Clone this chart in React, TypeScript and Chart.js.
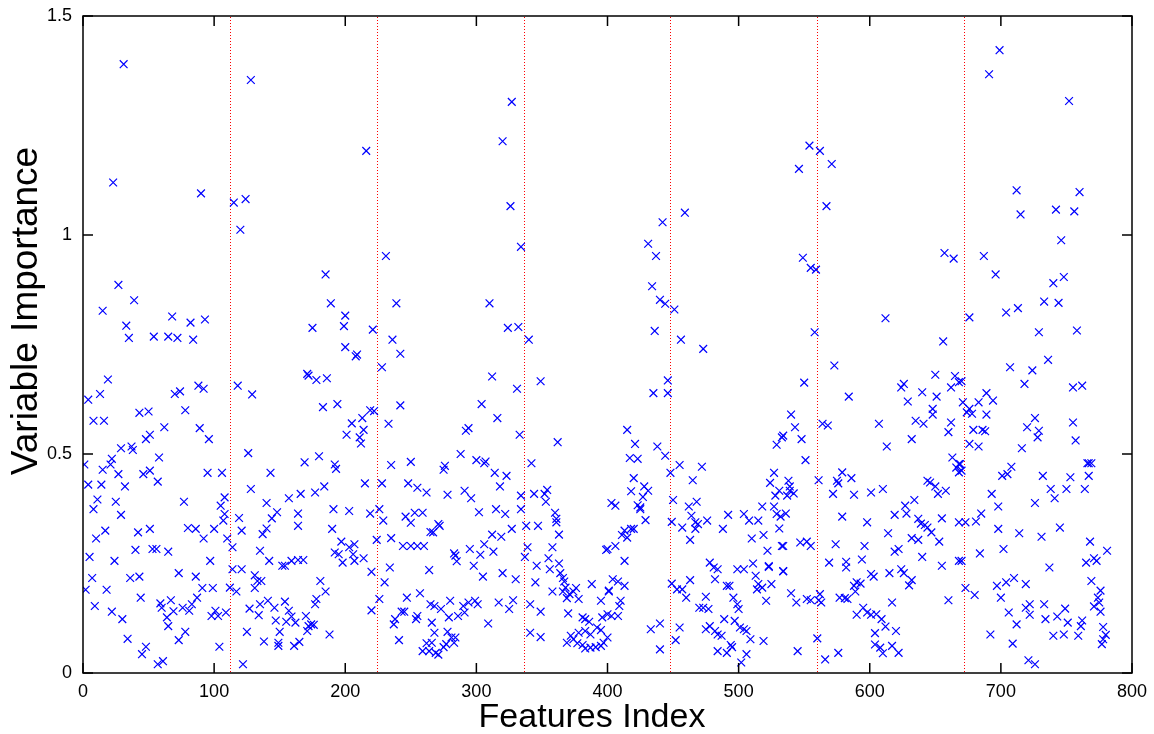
import { useEffect, useRef } from "react";
import { Chart, registerables } from "chart.js";

Chart.register(...registerables);

const xTicks = [0, 100, 200, 300, 400, 500, 600, 700, 800];
const yTicks = [0, 0.5, 1, 1.5];
const groupBoundaries = [112, 224, 336, 448, 560, 672];
const xTitle = "Features Index";
const yTitle = "Variable Importance";

// [feature index, variable importance]
const group1: [number, number][] = [
  [31, 1.39], [23, 1.12], [90, 1.095], [27, 0.886], [39, 0.851], [15, 0.827], [68, 0.814], [33, 0.793],
  [82, 0.8], [93, 0.807], [35, 0.765], [54, 0.768], [65, 0.768], [72, 0.765], [84, 0.761],
  [19, 0.67], [4, 0.624], [13, 0.637], [70, 0.637], [74, 0.643], [88, 0.656], [92, 0.649], [8, 0.576],
  [16, 0.576], [43, 0.594], [50, 0.597], [78, 0.6], [62, 0.561], [89, 0.559], [96, 0.534], [48, 0.534],
  [51, 0.544], [29, 0.513], [37, 0.517], [38, 0.509], [58, 0.492], [1, 0.476], [22, 0.489], [21, 0.476],
  [15, 0.464], [27, 0.454], [46, 0.454], [51, 0.462], [57, 0.437], [95, 0.457], [106, 0.457], [4, 0.43],
  [14, 0.43], [32, 0.426], [11, 0.396], [8, 0.374], [25, 0.391], [29, 0.361], [77, 0.391], [108, 0.401],
  [105, 0.382], [108, 0.363], [107, 0.348], [17, 0.325], [10, 0.307], [42, 0.321], [51, 0.329], [80, 0.331],
  [86, 0.329], [100, 0.329], [92, 0.307], [110, 0.307], [5, 0.265], [24, 0.256], [40, 0.281], [53, 0.283],
  [56, 0.283], [65, 0.277], [97, 0.256], [7, 0.217], [36, 0.217], [43, 0.22], [73, 0.228], [86, 0.22],
  [2, 0.19], [18, 0.19], [91, 0.194], [99, 0.194], [9, 0.153], [22, 0.14], [30, 0.123], [44, 0.172],
  [59, 0.159], [60, 0.149], [67, 0.166], [69, 0.141], [64, 0.127], [65, 0.107], [76, 0.149], [81, 0.142],
  [83, 0.157], [87, 0.172], [101, 0.142], [98, 0.13], [103, 0.13], [109, 0.138], [34, 0.078], [78, 0.094],
  [73, 0.075], [48, 0.06], [45, 0.043], [57, 0.02], [61, 0.027], [104, 0.06], [112, 0.195],
];

const group2: [number, number][] = [
  [115, 1.074], [124, 1.082], [120, 1.012], [128, 1.354], [118, 0.656], [129, 0.636], [126, 0.502],
  [128, 0.42], [119, 0.354], [121, 0.325], [114, 0.287], [114, 0.237], [121, 0.237], [131, 0.223],
  [117, 0.186], [131, 0.194], [127, 0.147], [125, 0.094], [122, 0.02],
  [216, 1.192], [185, 0.91], [189, 0.844], [200, 0.816], [175, 0.788], [199, 0.792], [221, 0.784],
  [200, 0.744], [208, 0.723], [209, 0.727], [171, 0.683], [172, 0.679], [178, 0.669], [186, 0.673],
  [183, 0.607], [194, 0.614], [219, 0.6], [222, 0.598], [213, 0.582], [205, 0.57], [201, 0.544],
  [214, 0.555], [211, 0.538], [212, 0.524], [169, 0.481], [180, 0.495], [143, 0.457], [192, 0.476],
  [193, 0.466], [215, 0.433], [140, 0.388], [157, 0.399], [166, 0.409], [177, 0.412], [184, 0.426],
  [148, 0.367], [144, 0.353], [164, 0.364], [164, 0.336], [191, 0.374], [203, 0.37], [219, 0.364],
  [140, 0.33], [137, 0.317], [190, 0.329], [224, 0.304], [197, 0.3], [192, 0.275], [195, 0.271],
  [198, 0.252], [203, 0.287], [207, 0.294], [206, 0.271], [207, 0.256], [214, 0.262], [135, 0.279],
  [142, 0.256], [152, 0.245], [154, 0.245], [159, 0.256], [164, 0.258], [168, 0.258], [220, 0.231],
  [133, 0.21], [136, 0.21], [181, 0.21], [185, 0.186], [178, 0.169], [177, 0.157], [135, 0.157],
  [141, 0.165], [146, 0.149], [154, 0.163], [134, 0.132], [157, 0.142], [159, 0.129], [162, 0.115],
  [155, 0.117], [147, 0.12], [170, 0.13], [172, 0.107], [174, 0.111], [176, 0.11], [220, 0.143],
  [150, 0.094], [171, 0.096], [188, 0.088], [138, 0.072], [149, 0.069], [149, 0.062], [161, 0.062],
  [165, 0.071],
];

const group3: [number, number][] = [
  [228, 0.698], [231, 0.952], [239, 0.844], [236, 0.761], [242, 0.729], [242, 0.611], [233, 0.569],
  [235, 0.475], [250, 0.482], [228, 0.433], [248, 0.433], [255, 0.423], [262, 0.412], [226, 0.374],
  [229, 0.348], [246, 0.357], [250, 0.343], [253, 0.366], [259, 0.366], [265, 0.322], [235, 0.308],
  [244, 0.29], [250, 0.29], [255, 0.29], [260, 0.29], [234, 0.241], [264, 0.235], [230, 0.207],
  [226, 0.169], [247, 0.172], [257, 0.182], [265, 0.157], [238, 0.123], [237, 0.111], [243, 0.14],
  [245, 0.14], [255, 0.13], [254, 0.123], [266, 0.115], [241, 0.075], [262, 0.068], [259, 0.05],
  [264, 0.05],
  [327, 1.304], [320, 1.214], [326, 1.066], [334, 0.973], [310, 0.844], [324, 0.788], [332, 0.79],
  [312, 0.677], [331, 0.649], [304, 0.614], [316, 0.582], [333, 0.544], [292, 0.553], [294, 0.559],
  [288, 0.5], [300, 0.486], [306, 0.479], [307, 0.483], [276, 0.473], [275, 0.464], [314, 0.457],
  [323, 0.45], [318, 0.426], [278, 0.407], [291, 0.416], [296, 0.399], [334, 0.405], [302, 0.367],
  [315, 0.374], [322, 0.363], [334, 0.374], [271, 0.34], [272, 0.336], [267, 0.321], [327, 0.329],
  [312, 0.316], [319, 0.311], [295, 0.283], [283, 0.273], [284, 0.268], [285, 0.255], [303, 0.27],
  [313, 0.277], [306, 0.294], [298, 0.245], [305, 0.22], [320, 0.228], [330, 0.214], [268, 0.153],
  [273, 0.146], [279, 0.127], [280, 0.165], [286, 0.13], [290, 0.153], [291, 0.138], [294, 0.161],
  [299, 0.165], [301, 0.157], [309, 0.113], [317, 0.161], [328, 0.166], [325, 0.146], [268, 0.092],
  [278, 0.094], [281, 0.081], [283, 0.069], [277, 0.066], [275, 0.059], [269, 0.046], [271, 0.042],
  [284, 0.081], [266, 0.069],
];

const group4: [number, number][] = [
  [340, 0.761], [349, 0.666], [362, 0.527], [342, 0.479], [344, 0.409], [352, 0.409], [354, 0.418],
  [353, 0.391], [360, 0.366], [361, 0.352], [361, 0.344], [338, 0.336], [347, 0.336], [363, 0.316],
  [339, 0.287], [337, 0.265], [358, 0.287], [355, 0.262], [356, 0.237], [346, 0.245], [363, 0.25],
  [399, 0.281], [345, 0.207], [364, 0.228], [366, 0.217], [367, 0.209], [368, 0.195], [366, 0.186],
  [358, 0.186], [376, 0.194], [374, 0.186], [371, 0.18], [369, 0.171], [378, 0.169], [388, 0.203],
  [395, 0.165], [401, 0.186], [341, 0.157], [349, 0.14], [370, 0.136], [381, 0.127], [383, 0.123],
  [386, 0.117], [396, 0.127], [400, 0.134], [392, 0.104], [395, 0.098], [387, 0.088], [383, 0.096],
  [378, 0.092], [372, 0.085], [369, 0.069], [374, 0.077], [377, 0.068], [381, 0.064], [383, 0.056],
  [387, 0.058], [391, 0.059], [395, 0.062], [397, 0.069], [400, 0.081], [341, 0.092], [349, 0.082],
  [442, 1.029], [431, 0.98], [437, 0.952], [434, 0.883], [440, 0.852], [444, 0.843], [436, 0.781],
  [446, 0.668], [446, 0.639], [435, 0.639], [415, 0.555], [421, 0.523], [417, 0.491], [423, 0.489],
  [438, 0.517], [444, 0.496], [420, 0.445], [418, 0.415], [428, 0.426], [431, 0.416], [427, 0.402],
  [403, 0.388], [406, 0.382], [423, 0.383], [425, 0.378], [425, 0.374], [429, 0.349], [413, 0.325],
  [411, 0.315], [415, 0.309], [418, 0.329], [420, 0.329], [400, 0.283], [406, 0.29], [413, 0.256],
  [404, 0.214], [408, 0.209], [413, 0.199], [401, 0.188], [410, 0.165], [409, 0.153], [408, 0.13],
  [403, 0.13], [433, 0.1], [440, 0.113], [440, 0.054],
];

const group5: [number, number][] = [
  [459, 1.051], [451, 0.83], [456, 0.761], [473, 0.74], [450, 0.395], [462, 0.38], [468, 0.391],
  [455, 0.475], [448, 0.457], [472, 0.471], [465, 0.44], [449, 0.345], [457, 0.332], [464, 0.359],
  [467, 0.344], [469, 0.34], [467, 0.329], [463, 0.304], [476, 0.348], [449, 0.204], [453, 0.191],
  [457, 0.191], [460, 0.172], [463, 0.212], [455, 0.104], [452, 0.075], [478, 0.252], [481, 0.241],
  [484, 0.237], [482, 0.214], [475, 0.174], [470, 0.149], [473, 0.149], [477, 0.146], [475, 0.1],
  [478, 0.107], [482, 0.096], [484, 0.088], [487, 0.085], [489, 0.123], [484, 0.05], [491, 0.046],
  [491, 0.199], [493, 0.199], [496, 0.172], [499, 0.157], [500, 0.146], [497, 0.119], [501, 0.104],
  [504, 0.1], [506, 0.096], [509, 0.077], [494, 0.064], [495, 0.059], [506, 0.043], [502, 0.024],
  [519, 0.073], [499, 0.237], [504, 0.237], [511, 0.25], [513, 0.222], [515, 0.203], [514, 0.191],
  [518, 0.195], [525, 0.203], [521, 0.165], [523, 0.242], [534, 0.232], [488, 0.329], [492, 0.361],
  [504, 0.363], [508, 0.348], [515, 0.348], [510, 0.307], [519, 0.315], [522, 0.279], [523, 0.244],
  [518, 0.38], [527, 0.38], [529, 0.363], [532, 0.357], [531, 0.33], [524, 0.434], [527, 0.457],
  [528, 0.405], [531, 0.416], [529, 0.521], [533, 0.538], [533, 0.29],
  [554, 1.204], [546, 1.151], [549, 0.948], [555, 0.925], [559, 0.921], [558, 0.778], [550, 0.663],
  [540, 0.59], [543, 0.561], [548, 0.534], [534, 0.542], [551, 0.486], [538, 0.439], [539, 0.426],
  [542, 0.41], [537, 0.405], [539, 0.416], [536, 0.364], [534, 0.29], [547, 0.298], [552, 0.3],
  [555, 0.29], [534, 0.233], [540, 0.182], [544, 0.161], [552, 0.169], [555, 0.166], [560, 0.079],
  [545, 0.05],
];

const group6: [number, number][] = [
  [562, 1.192], [571, 1.162], [567, 1.066], [612, 0.81], [657, 0.959], [664, 0.946], [656, 0.757],
  [573, 0.702], [584, 0.631], [650, 0.681], [665, 0.678], [662, 0.652], [668, 0.664], [624, 0.652],
  [626, 0.66], [640, 0.641], [651, 0.631], [629, 0.62], [564, 0.569], [568, 0.565], [607, 0.569],
  [613, 0.517], [632, 0.534], [635, 0.576], [641, 0.569], [648, 0.603], [648, 0.59], [660, 0.55],
  [662, 0.572], [663, 0.492], [666, 0.469], [668, 0.477], [668, 0.458], [561, 0.44], [575, 0.439],
  [579, 0.458], [576, 0.433], [586, 0.445], [572, 0.409], [588, 0.407], [601, 0.412], [610, 0.42],
  [644, 0.439], [646, 0.435], [650, 0.426], [652, 0.409], [658, 0.416], [634, 0.395], [579, 0.357],
  [598, 0.344], [619, 0.361], [627, 0.382], [628, 0.364], [637, 0.352], [639, 0.341], [642, 0.338],
  [644, 0.332], [647, 0.321], [655, 0.353], [668, 0.344], [574, 0.294], [596, 0.29], [614, 0.319],
  [619, 0.277], [622, 0.283], [632, 0.308], [637, 0.304], [653, 0.3], [640, 0.265], [569, 0.252],
  [582, 0.254], [582, 0.241], [594, 0.259], [601, 0.226], [603, 0.22], [615, 0.228], [624, 0.237],
  [626, 0.228], [632, 0.212], [630, 0.2], [655, 0.245], [668, 0.256], [562, 0.18], [563, 0.161],
  [561, 0.166], [577, 0.172], [581, 0.171], [583, 0.169], [588, 0.199], [590, 0.207], [593, 0.204],
  [589, 0.186], [617, 0.161], [660, 0.166], [590, 0.133], [595, 0.149], [598, 0.138], [601, 0.133],
  [605, 0.134], [609, 0.123], [612, 0.106], [620, 0.096], [604, 0.091], [604, 0.065], [608, 0.058],
  [610, 0.045], [617, 0.062], [622, 0.046], [566, 0.031], [576, 0.046], [670, 0.666], [669, 0.477],
  [670, 0.462], [670, 0.256],
];

const group7: [number, number][] = [
  [699, 1.422], [691, 1.367], [752, 1.306], [712, 1.102], [760, 1.098], [715, 1.047], [742, 1.058],
  [756, 1.054], [746, 0.988], [687, 0.952], [696, 0.91], [740, 0.89], [748, 0.904], [676, 0.812],
  [704, 0.823], [713, 0.833], [733, 0.848], [744, 0.845], [729, 0.778], [758, 0.782], [707, 0.698],
  [724, 0.691], [736, 0.715], [718, 0.66], [755, 0.652], [762, 0.656], [689, 0.639], [694, 0.622],
  [683, 0.618], [671, 0.618], [676, 0.603], [674, 0.595], [678, 0.592], [689, 0.59], [726, 0.582],
  [720, 0.561], [729, 0.553], [728, 0.538], [755, 0.572], [757, 0.531], [679, 0.555], [686, 0.555],
  [688, 0.552], [676, 0.523], [683, 0.517], [716, 0.513], [766, 0.479], [767, 0.479], [769, 0.479],
  [708, 0.471], [701, 0.45], [705, 0.454], [732, 0.45], [753, 0.447], [767, 0.45], [738, 0.42],
  [741, 0.399], [750, 0.42], [764, 0.42], [693, 0.409], [698, 0.38], [726, 0.388], [673, 0.344],
  [681, 0.346], [685, 0.364], [698, 0.329], [714, 0.319], [731, 0.311], [745, 0.332], [684, 0.273],
  [702, 0.283], [737, 0.241], [768, 0.3], [781, 0.279], [765, 0.252], [771, 0.262], [773, 0.256],
  [673, 0.194], [680, 0.178], [697, 0.199], [704, 0.207], [710, 0.217], [719, 0.203], [700, 0.172],
  [769, 0.21], [776, 0.188], [774, 0.172], [775, 0.161], [771, 0.152], [776, 0.14], [706, 0.138],
  [712, 0.111], [719, 0.149], [722, 0.157], [722, 0.133], [733, 0.157], [734, 0.123], [743, 0.129],
  [749, 0.147], [751, 0.115], [762, 0.12], [761, 0.107], [759, 0.085], [778, 0.105], [780, 0.087],
  [778, 0.077], [777, 0.066], [692, 0.088], [709, 0.067], [740, 0.085], [748, 0.088], [721, 0.029],
  [726, 0.02],
];

const allGroups = [group1, group2, group3, group4, group5, group6, group7];

const FONT = "'Liberation Sans', Arial, Helvetica, sans-serif";

const framePlugin = {
  id: "matlabFrame",
  beforeDatasetsDraw(chart: any) {
    const { ctx, chartArea, scales } = chart;
    ctx.save();
    ctx.fillStyle = "#ff0000";
    for (const b of groupBoundaries) {
      const px = Math.round(scales.x.getPixelForValue(b));
      for (let y = Math.ceil(chartArea.top) + 1; y < chartArea.bottom; y += 3) {
        ctx.fillRect(px, y, 1, 1);
      }
    }
    ctx.restore();
  },
  afterDraw(chart: any) {
    const { ctx, chartArea, scales } = chart;
    const { left, right, top, bottom } = chartArea;
    ctx.save();
    ctx.strokeStyle = "#000";
    ctx.lineWidth = 1.5;
    ctx.setLineDash([]);
    ctx.strokeRect(left, top, right - left, bottom - top);
    const tl = 10;
    ctx.beginPath();
    for (const t of xTicks) {
      const px = scales.x.getPixelForValue(t);
      ctx.moveTo(px, bottom);
      ctx.lineTo(px, bottom - tl);
      ctx.moveTo(px, top);
      ctx.lineTo(px, top + tl);
    }
    for (const t of yTicks) {
      const py = scales.y.getPixelForValue(t);
      ctx.moveTo(left, py);
      ctx.lineTo(left + tl, py);
      ctx.moveTo(right, py);
      ctx.lineTo(right - tl, py);
    }
    ctx.stroke();

    // axis titles
    ctx.fillStyle = "#000";
    ctx.textAlign = "center";
    ctx.textBaseline = "alphabetic";
    ctx.font = `34px ${FONT}`;
    ctx.fillText(xTitle, 592, 727);
    ctx.save();
    ctx.translate(37, 311);
    ctx.rotate(-Math.PI / 2);
    ctx.font = `37px ${FONT}`;
    ctx.fillText(yTitle, 0, 0);
    ctx.restore();
    ctx.restore();
  },
};

export default function App() {
  const canvasRef = useRef<HTMLCanvasElement | null>(null);

  useEffect(() => {
    document.body.style.margin = "0";
    const canvas = canvasRef.current;
    if (!canvas) return;
    const points = allGroups.flat().map(([x, y]) => ({ x, y }));
    const chart = new Chart(canvas, {
      type: "scatter",
      data: {
        datasets: [
          {
            data: points,
            pointStyle: "crossRot",
            pointRadius: 5.5,
            pointHoverRadius: 5.5,
            borderColor: "#0000ff",
            backgroundColor: "#0000ff",
            borderWidth: 1.2,
          },
        ],
      },
      options: {
        responsive: false,
        animation: false,
        events: [],
        layout: { padding: { left: 0, top: 16, right: 22, bottom: 0 } },
        plugins: { legend: { display: false }, tooltip: { enabled: false } },
        scales: {
          x: {
            type: "linear",
            min: 0,
            max: 800,
            grid: { display: false },
            border: { display: false },
            afterBuildTicks: (s: any) => {
              s.ticks = xTicks.map((v) => ({ value: v }));
            },
            afterFit: (s: any) => {
              s.height = 61;
            },
            ticks: {
              color: "#000",
              font: { family: FONT, size: 18 },
              padding: 0,
              maxRotation: 0,
              callback: (v: any) => String(v),
            },
          },
          y: {
            type: "linear",
            min: 0,
            max: 1.5,
            grid: { display: false },
            border: { display: false },
            afterBuildTicks: (s: any) => {
              s.ticks = yTicks.map((v) => ({ value: v }));
            },
            afterFit: (s: any) => {
              s.width = 83;
            },
            ticks: {
              color: "#000",
              font: { family: FONT, size: 18 },
              padding: 3,
              callback: (v: any) => String(v),
            },
          },
        },
      },
      plugins: [framePlugin],
    });
    return () => chart.destroy();
  }, []);

  return (
    <div style={{ position: "fixed", left: 0, top: 0, width: 1154, height: 734, background: "#fff" }}>
      <canvas ref={canvasRef} width={1154} height={734} style={{ display: "block" }} />
    </div>
  );
}
